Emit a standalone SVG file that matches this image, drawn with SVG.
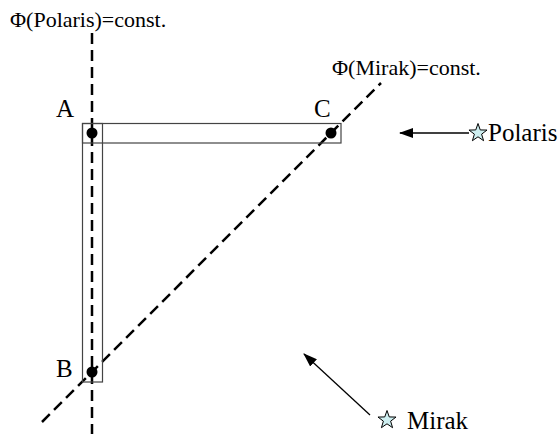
<svg xmlns="http://www.w3.org/2000/svg" xmlns:xlink="http://www.w3.org/1999/xlink" width="559" height="434" viewBox="0 0 559 434">
<style>
.lbl{font-family:"Liberation Serif","Times New Roman",serif;fill:#000}
.small{font-size:22px}
.big{font-size:25px}
.dash{stroke:#000;stroke-width:2.5;stroke-dasharray:11 6;fill:none}
.box{fill:none;stroke:#444;stroke-width:1.2}
.arrow{stroke:#000;stroke-width:1.3;fill:none}
.star{fill:#cdeef0;stroke:#000;stroke-width:1}
</style>
<defs>
<marker id="ah" markerWidth="14" markerHeight="10" refX="13" refY="5" orient="auto" markerUnits="userSpaceOnUse">
<path d="M0,0 L14,5 L0,10 Z" fill="#000"/>
</marker>
<path id="starShape" d="M0,-9.5 L2.24,-3.07 L9.03,-2.93 L3.61,1.17 L5.58,7.69 L0,3.8 L-5.58,7.69 L-3.61,1.17 L-9.03,-2.93 L-2.24,-3.07 Z"/>
</defs>
<g id="connectors">
<line class="dash" x1="92" y1="33" x2="92" y2="434"/>
<line class="dash" x1="42" y1="422" x2="381" y2="83"/>
<line class="arrow" x1="469" y1="133" x2="400" y2="133" marker-end="url(#ah)"/>
<line class="arrow" x1="370" y1="415" x2="304" y2="354" marker-end="url(#ah)"/>
</g>
<g id="bars">
<rect class="box" x="82.5" y="123.5" width="258.5" height="19.5"/>
<rect class="box" x="82.5" y="123.5" width="20" height="258.5"/>
</g>
<g id="nodeA">
<circle cx="92" cy="133" r="5.5" fill="#000"/>
<text class="lbl big" x="56" y="117">A</text>
</g>
<g id="nodeC">
<circle cx="331" cy="133" r="5.5" fill="#000"/>
<text class="lbl big" x="314" y="117">C</text>
</g>
<g id="nodeB">
<circle cx="92" cy="372" r="5.5" fill="#000"/>
<text class="lbl big" x="56" y="377">B</text>
</g>
<g id="polaris">
<use xlink:href="#starShape" href="#starShape" class="star" transform="translate(478,133)"/>
<text class="lbl big" x="488" y="141">Polaris</text>
</g>
<g id="mirak">
<use xlink:href="#starShape" href="#starShape" class="star" transform="translate(387,420)"/>
<text class="lbl big" x="407" y="429">Mirak</text>
</g>
<g id="labels">
<text class="lbl small" x="10" y="27">Φ(Polaris)=const.</text>
<text class="lbl small" x="332" y="75">Φ(Mirak)=const.</text>
</g>
</svg>
